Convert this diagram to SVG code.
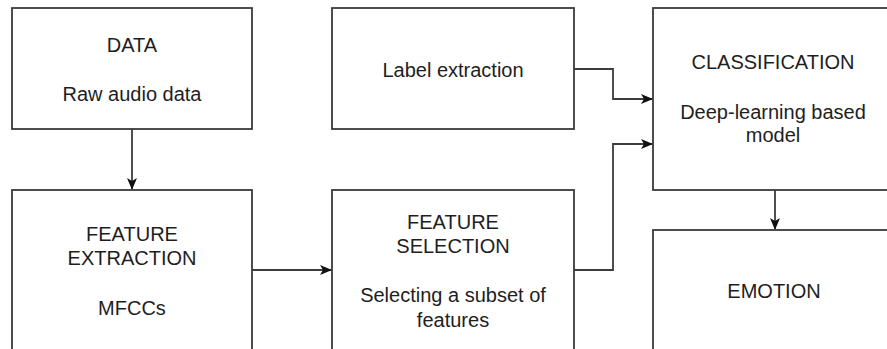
<svg xmlns="http://www.w3.org/2000/svg" width="887" height="349" viewBox="0 0 887 349">
  <style>
    .box { fill: #ffffff; stroke: #3a3a3a; stroke-width: 1.8; }
    .lbl { font-family: "Liberation Sans", Arial, sans-serif; font-size: 20px; fill: #1e1e1e; text-anchor: middle; }
    .edge { fill: none; stroke: #3c3c3c; stroke-width: 1.8; }
  </style>
  <defs>
    <marker id="arrow" viewBox="0 0 12 10" refX="11" refY="5" markerWidth="12" markerHeight="10" markerUnits="userSpaceOnUse" orient="auto">
      <path d="M0,0 L12,5 L0,10 L3,5 Z" fill="#111111"/>
    </marker>
  </defs>
  <rect width="887" height="349" fill="#ffffff"/>

  <g id="connectors">
    <path class="edge" d="M132,129 V189" marker-end="url(#arrow)"/>
    <path class="edge" d="M252,270 H331" marker-end="url(#arrow)"/>
    <path class="edge" d="M574,69 H613 V99 H652" marker-end="url(#arrow)"/>
    <path class="edge" d="M574,270 H613 V144 H652" marker-end="url(#arrow)"/>
    <path class="edge" d="M775,190 V229" marker-end="url(#arrow)"/>
  </g>

  <g id="data">
    <rect class="box" x="12" y="8" width="240" height="121"/>
    <text class="lbl" x="132" y="52">DATA</text>
    <text class="lbl" x="132" y="101">Raw audio data</text>
  </g>

  <g id="feature-extraction">
    <rect class="box" x="12" y="190" width="240" height="170"/>
    <text class="lbl" x="132" y="241">FEATURE</text>
    <text class="lbl" x="132" y="265">EXTRACTION</text>
    <text class="lbl" x="132" y="315">MFCCs</text>
  </g>

  <g id="label-extraction">
    <rect class="box" x="332" y="8" width="242" height="121"/>
    <text class="lbl" x="453" y="77">Label extraction</text>
  </g>

  <g id="feature-selection">
    <rect class="box" x="332" y="190" width="242" height="170"/>
    <text class="lbl" x="453" y="229">FEATURE</text>
    <text class="lbl" x="453" y="253">SELECTION</text>
    <text class="lbl" x="453" y="302">Selecting a subset of</text>
    <text class="lbl" x="453" y="327">features</text>
  </g>

  <g id="classification">
    <rect class="box" x="653" y="8" width="242" height="182"/>
    <text class="lbl" x="773" y="69">CLASSIFICATION</text>
    <text class="lbl" x="773" y="119">Deep-learning based</text>
    <text class="lbl" x="773" y="142">model</text>
  </g>

  <g id="emotion">
    <rect class="box" x="653" y="230" width="242" height="130"/>
    <text class="lbl" x="774" y="298">EMOTION</text>
  </g>
</svg>
